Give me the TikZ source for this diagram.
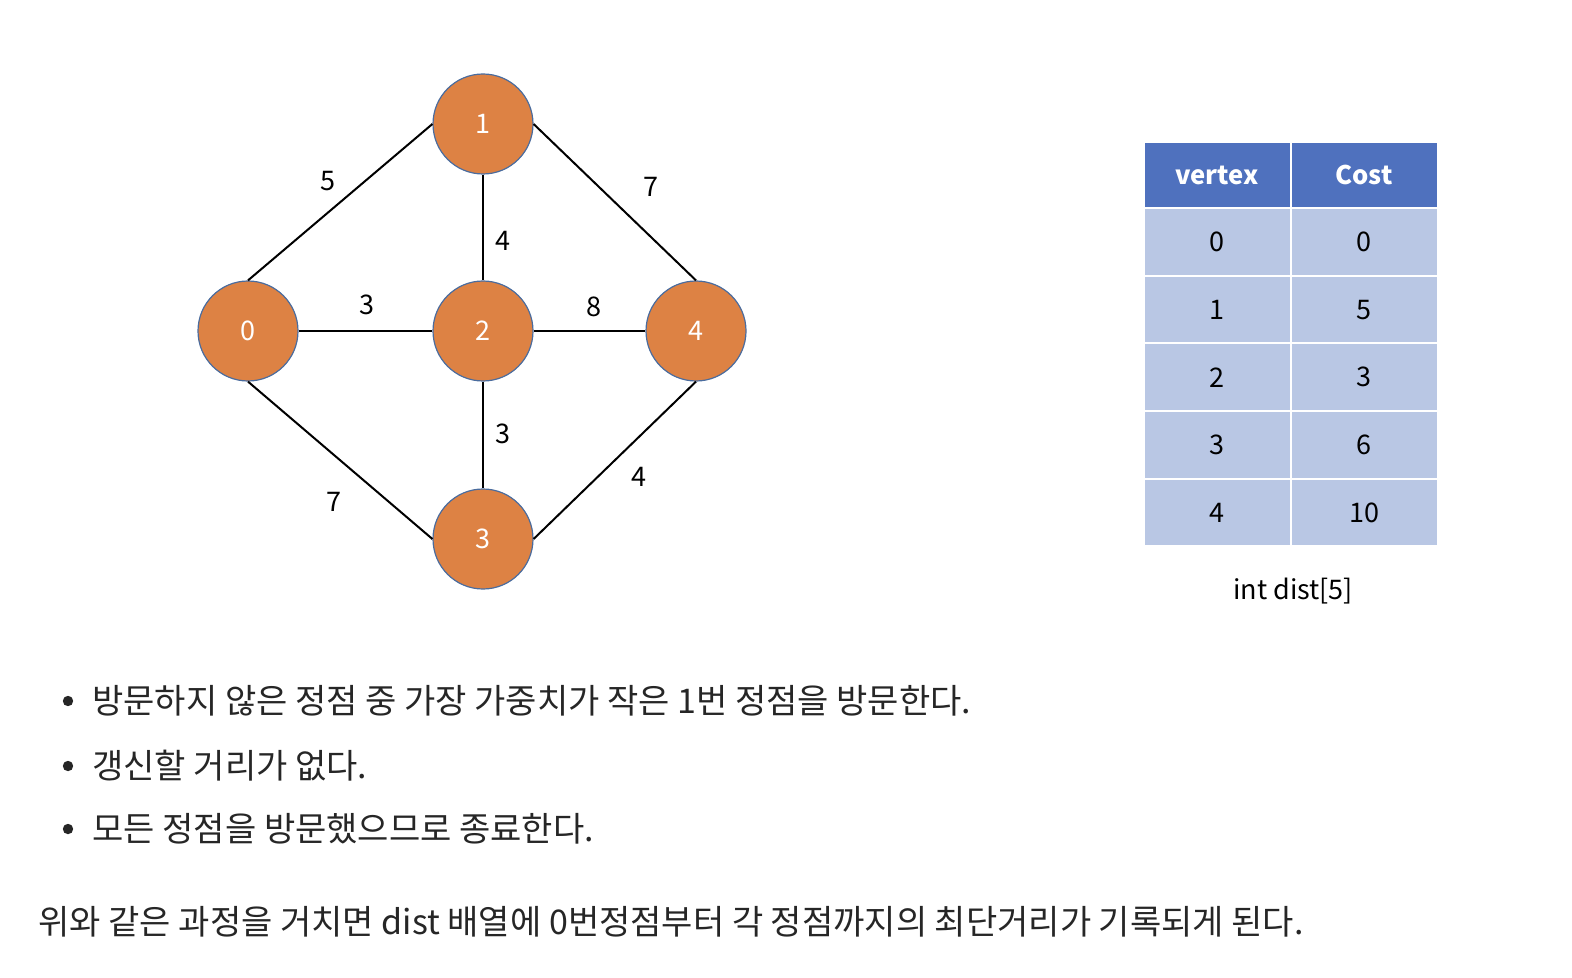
\documentclass[tikz,border=0pt]{standalone}
\usepackage{fontspec}
\setmainfont{Noto Sans CJK KR}
\usetikzlibrary{positioning}
\definecolor{vtxfill}{HTML}{DD8244}
\definecolor{vtxline}{HTML}{4A6C9E}
\definecolor{hdrblue}{HTML}{4F71BE}
\definecolor{cellblue}{HTML}{B9C7E4}

\begin{document}
\begin{tikzpicture}[
    x=0.5pt, y=-0.5pt,
    node distance=117.5pt and 117.5pt, on grid,
    vtx/.style={circle, draw=vtxline, line width=0.6pt, fill=vtxfill, minimum size=50pt, inner sep=0pt, text=white, font=\fontsize{13.5}{16}\selectfont},
    edge/.style={line width=1pt, black},
    wlbl/.style={inner sep=0pt, font=\fontsize{13.5}{16}\selectfont},
    hcell/.style={draw=white, line width=1pt, fill=hdrblue, minimum width=73.5pt, minimum height=33pt, inner sep=0pt, text=white, font=\fontsize{12.8}{15}\selectfont\bfseries},
    cell/.style={draw=white, line width=1pt, fill=cellblue, minimum width=73.5pt, minimum height=33.75pt, inner sep=0pt, font=\fontsize{13.5}{16}\selectfont},
    txt/.style={anchor=west, inner sep=0pt, font=\fontsize{17}{20}\selectfont, text=black!85},
  ]
  \useasboundingbox (0,0) rectangle (1572,978);

  % graph
  \node[vtx] (v2) at (483,331) {2};
  \node[vtx, above=103.5pt of v2] (v1) {1};
  \node[vtx, left=of v2] (v0) {0};
  \node[vtx, right=106.5pt of v2] (v4) {4};
  \node[vtx, below=104pt of v2] (v3) {3};

  \draw[edge] (v0.north) -- (v1.west);
  \draw[edge] (v1.east) -- (v4.north);
  \draw[edge] (v0.south) -- (v3.west);
  \draw[edge] (v3.east) -- (v4.south);
  \draw[edge] (v1) -- (v2);
  \draw[edge] (v2) -- (v3);
  \draw[edge] (v0) -- (v2);
  \draw[edge] (v2) -- (v4);

  \node[wlbl] (w01) at (328,181) {5};
  \node[wlbl] (w14) at (651,187) {7};
  \node[wlbl] (w12) at (503,241) {4};
  \node[wlbl] (w02) at (367,305) {3};
  \node[wlbl] (w24) at (594,307) {8};
  \node[wlbl] (w23) at (503,434) {3};
  \node[wlbl] (w03) at (334,502) {7};
  \node[wlbl] (w34) at (639,477) {4};

  % dist table
  \node[hcell] (hv) at (1217,175) {vertex};
  \node[hcell] (hc) at (1364,175) {Cost};
  \foreach \v/\c [count=\i from 0] in {0/0,1/5,2/3,3/6,4/10} {
    \node[cell] (rv\i) at (1217,242+67.6*\i) {\v};
    \node[cell] (rc\i) at (1364,242+67.6*\i) {\c};
  }
  \node[below=22pt of rv4.south, anchor=center, xshift=38pt, font=\fontsize{13.5}{16}\selectfont] (cap) {int dist[5]};

  % notes
  \foreach \y/\t [count=\i] in {
      701/{방문하지 않은 정점 중 가장 가중치가 작은 1번 정점을 방문한다.},
      766/{갱신할 거리가 없다.},
      829/{모든 정점을 방문했으므로 종료한다.}} {
    \fill[black!85] (68,\y) circle (2.6pt);
    \node[txt] (note\i) at (92,\y) {\t};
  }
  \node[txt] (summary) at (38,922) {위와 같은 과정을 거치면 dist 배열에 0번정점부터 각 정점까지의 최단거리가 기록되게 된다.};
\end{tikzpicture}
\end{document}
